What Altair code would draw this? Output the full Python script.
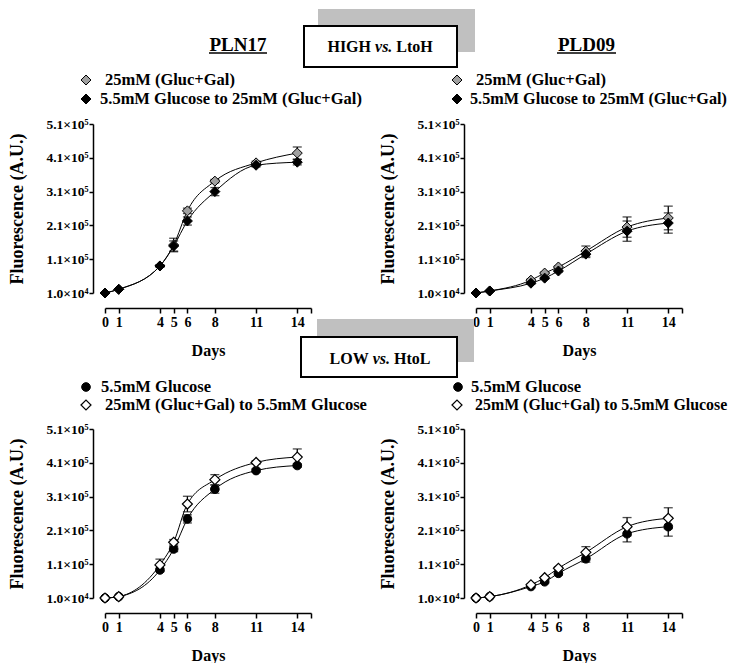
import altair as alt
import pandas as pd

# ---------------- data ----------------
DAYS = [0, 1, 4, 5, 6, 8, 11, 14]

# PLN17, HIGH vs LtoH
PLN17_HIGH_GG = [10000, 21000, 90000, 152000, 253000, 341000, 395000, 424000]
PLN17_HIGH_GG_SEM = [0, 0, 3000, 20000, 8000, 5000, 5000, 18000]
PLN17_LTOH = [10000, 21000, 90000, 149000, 223000, 310000, 388000, 397000]
PLN17_LTOH_SEM = [0, 0, 3000, 15000, 12000, 12000, 5000, 8000]

# PLD09, HIGH vs LtoH
PLD09_HIGH_GG = [10000, 16000, 48000, 69000, 87000, 134000, 205000, 232000]
PLD09_HIGH_GG_SEM = [0, 0, 3000, 3000, 3000, 15000, 30000, 35000]
PLD09_LTOH = [10000, 16000, 39000, 54000, 75000, 125000, 193000, 217000]
PLD09_LTOH_SEM = [0, 0, 3000, 3000, 3000, 10000, 30000, 30000]

# PLN17, LOW vs HtoL
PLN17_LOW_GLU = [10000, 14000, 93000, 155000, 244000, 332000, 387000, 402000]
PLN17_LOW_GLU_SEM = [0, 0, 5000, 8000, 12000, 12000, 5000, 5000]
PLN17_HTOL = [10000, 14000, 108000, 175000, 288000, 360000, 411000, 427000]
PLN17_HTOL_SEM = [0, 0, 17000, 8000, 23000, 15000, 5000, 24000]

# PLD09, LOW vs HtoL
PLD09_LOW_GLU = [10000, 14000, 44000, 58000, 83000, 126000, 200000, 221000]
PLD09_LOW_GLU_SEM = [0, 0, 3000, 3000, 5000, 10000, 24000, 28000]
PLD09_HTOL = [10000, 14000, 49000, 70000, 98000, 145000, 221000, 246000]
PLD09_HTOL_SEM = [0, 0, 3000, 3000, 4000, 17000, 27000, 31000]

Y_TICKS = [10000, 110000, 210000, 310000, 410000, 510000]
Y_LABELS = ["1.0×10⁴", "1.1×10⁵", "2.1×10⁵", "3.1×10⁵", "4.1×10⁵", "5.1×10⁵"]
X_TICKS = [0, 1, 4, 5, 6, 8, 11, 14, 15]
X_LABELS = ["0", "1", "4", "5", "6", "8", "11", "14", ""]

LEG_HIGH_1 = "25mM (Gluc+Gal)"
LEG_HIGH_2 = "5.5mM Glucose to 25mM (Gluc+Gal)"
LEG_LOW_1 = "5.5mM Glucose"
LEG_LOW_2 = "25mM (Gluc+Gal) to 5.5mM Glucose"

FONT = "Liberation Serif"
W, H = 206, 169
LEGSIZE = 16.5


def label_expr(vals, labels):
    expr = "''"
    for v, l in reversed(list(zip(vals, labels))):
        expr = f"datum.value == {v} ? '{l}' : ({expr})"
    return expr


XSCALE = alt.Scale(domain=[0, 15], nice=False, zero=False)
YSCALE = alt.Scale(domain=[10000, 510000], nice=False, zero=False)
XAXIS = alt.Axis(values=X_TICKS, labelExpr=label_expr(X_TICKS, X_LABELS), offset=15,
                 tickSize=5, tickWidth=1.5, domainWidth=1.5, labelFontSize=14,
                 labelFont=FONT, titleFont=FONT, labelFontWeight="bold",
                 titleFontWeight="bold", labelColor="black", titleColor="black",
                 domainColor="black", tickColor="black",
                 labelPadding=2, titleFontSize=16, titlePadding=13,
                 labelFlush=False, labelOverlap=False, grid=False)
YAXIS = alt.Axis(values=Y_TICKS, labelExpr=label_expr(Y_TICKS, Y_LABELS), offset=12,
                 tickSize=4, tickWidth=1.5, domainWidth=1.5, labelFontSize=13.5,
                 labelFont=FONT, titleFont=FONT, labelFontWeight="bold",
                 titleFontWeight="bold", labelColor="black", titleColor="black",
                 domainColor="black", tickColor="black",
                 labelPadding=1, titleFontSize=18, titlePadding=19,
                 labelFlush=False, labelOverlap=False, grid=False)


def X(field):
    return alt.X(field, type="quantitative", scale=XSCALE, axis=XAXIS, title="Days")


def Y(field):
    return alt.Y(field, type="quantitative", scale=YSCALE, axis=YAXIS,
                 title="Fluorescence (A.U.)")


ONE = pd.DataFrame({"k": [0]})


def series(vals, sem, shape, fill, size, sw=1.0):
    df = pd.DataFrame({"day": DAYS, "v": vals, "sem": sem})
    df["lo"] = df["v"] - df["sem"]
    df["hi"] = df["v"] + df["sem"]
    base = alt.Chart(df)
    line = base.mark_line(color="black", strokeWidth=1, interpolate="monotone").encode(
        x=X("day"), y=Y("v"))
    errs = base.transform_filter("datum.sem > 0")
    rule = errs.mark_rule(color="black", strokeWidth=1.3).encode(
        x=X("day"), y=Y("lo"), y2="hi:Q")
    cap_hi = errs.mark_tick(orient="horizontal", size=9, thickness=1.3, color="black").encode(
        x=X("day"), y=Y("hi"))
    cap_lo = errs.mark_tick(orient="horizontal", size=9, thickness=1.3, color="black").encode(
        x=X("day"), y=Y("lo"))
    pts = base.mark_point(shape=shape, filled=True, fill=fill, stroke="black",
                          strokeWidth=sw, size=size, opacity=1).encode(
        x=X("day"), y=Y("v"))
    return [line], [rule, cap_hi, cap_lo], [pts]


def txt(text, x, y, size=LEGSIZE, align="left", style="normal", baseline="alphabetic"):
    return alt.Chart(ONE).mark_text(
        text=text, font=FONT, fontSize=size, fontWeight="bold", fontStyle=style,
        align=align, baseline=baseline, color="black").encode(
        x=alt.value(x), y=alt.value(y))


def rect(x1, x2, y1, y2, fill, stroke=None, sw=0, opacity=1):
    kw = dict(fill=fill, opacity=opacity)
    if stroke:
        kw.update(stroke=stroke, strokeWidth=sw)
    return alt.Chart(ONE).mark_rect(**kw).encode(
        x=alt.value(x1), x2=alt.value(x2), y=alt.value(y1), y2=alt.value(y2))


def sym(x, y, shape, fill, size, sw=1.0):
    return alt.Chart(ONE).mark_point(shape=shape, filled=True, fill=fill, stroke="black",
                                     strokeWidth=sw, size=size, opacity=1).encode(
        x=alt.value(x), y=alt.value(y))


def uline(x1, x2, y):
    return alt.Chart(ONE).mark_rule(color="black", strokeWidth=1.5).encode(
        x=alt.value(x1), x2=alt.value(x2), y=alt.value(y))


def panel(sa, sb, extras):
    la, ea, pa = sa
    lb, eb, pb = sb
    layers = la + lb + ea + eb + pa + pb + extras
    return alt.layer(*layers).properties(width=W, height=H)


GRAY = "#a0a0a0"
DSIZE = 100
CSIZE = 75

# ---- top-left: PLN17 HIGH ----
tl_extras = [
    rect(-96, -95, -116, -115, "white", opacity=0),  # page anchor
    txt("PLN17", 133, -73, size=19, align="center"),
    uline(104, 162, -71),
    sym(-19, -44, "diamond", GRAY, DSIZE),
    txt(LEG_HIGH_1, 0, -39),
    sym(-19, -25, "diamond", "black", DSIZE),
    txt(LEG_HIGH_2, -5, -20),
    rect(213, 370, -115, -72, "#c0c0c0"),
    rect(199, 352, -98, -57, "white", stroke="black", sw=2),
    txt("HIGH", 266, -72, size=16, align="right"),
    txt("vs.", 278.7, -72, size=16, align="center", style="italic"),
    txt("LtoH", 291.3, -72, size=16, align="left"),
]
TL = panel(series(PLN17_HIGH_GG, PLN17_HIGH_GG_SEM, "diamond", GRAY, DSIZE),
           series(PLN17_LTOH, PLN17_LTOH_SEM, "diamond", "black", DSIZE), tl_extras)

# ---- top-right: PLD09 HIGH ----
tr_extras = [
    txt("PLD09", 110.5, -73, size=19, align="center"),
    uline(81, 140, -71),
    sym(-19, -44, "diamond", GRAY, DSIZE),
    txt(LEG_HIGH_1, 0, -39),
    sym(-19, -25, "diamond", "black", DSIZE),
    txt(LEG_HIGH_2, -6, -20, size=16.2),
]
TR = panel(series(PLD09_HIGH_GG, PLD09_HIGH_GG_SEM, "diamond", GRAY, DSIZE),
           series(PLD09_LTOH, PLD09_LTOH_SEM, "diamond", "black", DSIZE), tr_extras)

# ---- bottom-left: PLN17 LOW ----
bl_extras = [
    sym(-19, -42, "circle", "black", CSIZE),
    txt(LEG_LOW_1, -4, -37),
    sym(-19, -24, "diamond", "white", DSIZE, 1.2),
    txt(LEG_LOW_2, 0, -19),
    rect(212, 369, -110, -67, "#c0c0c0"),
    rect(196, 352, -92, -52, "white", stroke="black", sw=2),
    txt("LOW", 263.7, -65.5, size=16, align="right"),
    txt("vs.", 276.4, -65.5, size=16, align="center", style="italic"),
    txt("HtoL", 289, -65.5, size=16, align="left"),
]
BL = panel(series(PLN17_LOW_GLU, PLN17_LOW_GLU_SEM, "circle", "black", CSIZE),
           series(PLN17_HTOL, PLN17_HTOL_SEM, "diamond", "white", DSIZE, 1.2), bl_extras)

# ---- bottom-right: PLD09 LOW ----
br_extras = [
    sym(-18, -42, "circle", "black", CSIZE),
    txt(LEG_LOW_1, -5, -37),
    sym(-19, -24, "diamond", "white", DSIZE, 1.2),
    txt(LEG_LOW_2, -1, -19, size=15.9),
]
BR = panel(series(PLD09_LOW_GLU, PLD09_LOW_GLU_SEM, "circle", "black", CSIZE),
           series(PLD09_HTOL, PLD09_HTOL_SEM, "diamond", "white", DSIZE, 1.2), br_extras)

chart = alt.concat(TL, TR, BL, BR, columns=2,
                   spacing={"row": 136, "column": 165}, bounds="flush").properties(
    padding=0, background="white"
).configure_view(stroke=None).configure_axis(
    labelFont=FONT, titleFont=FONT, labelFontWeight="bold", titleFontWeight="bold",
    labelColor="black", titleColor="black", domainColor="black", tickColor="black",
    grid=False)

chart.save("out.html", embed_options={"renderer": "svg", "actions": False})
